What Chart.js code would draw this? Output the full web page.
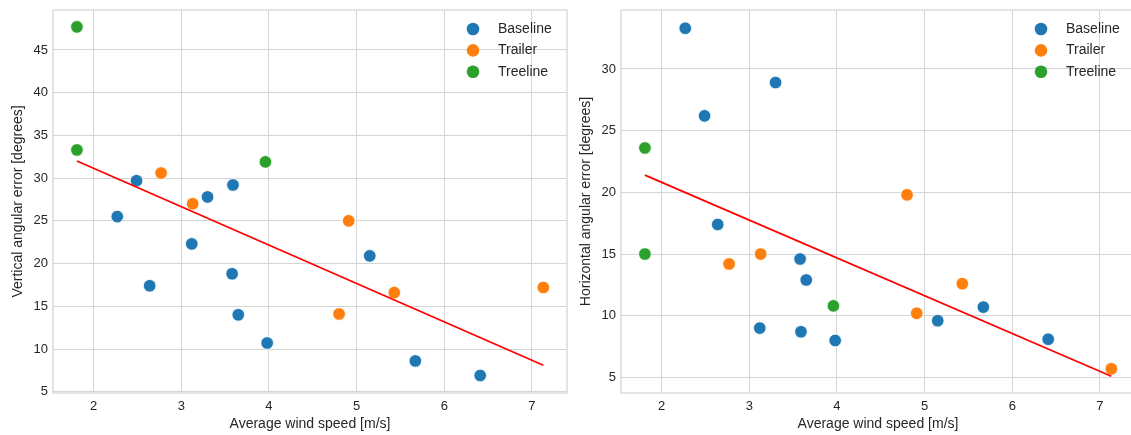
<!DOCTYPE html>
<html>
<head>
<meta charset="utf-8">
<script src="https://cdn.jsdelivr.net/npm/chart.js@4"></script>
<style>
  html, body { margin: 0; padding: 0; background: #fff; overflow: hidden; }
  #wrap { position: relative; width: 1131px; height: 435px; overflow: hidden; }
  .panel { position: absolute; top: 0; height: 435px; width: 568px; }
  #left { left: 0; }
  #right { left: 568px; }
</style>
</head>
<body>
<div id="wrap">
  <div class="panel" id="left"><canvas id="vertChart"></canvas></div>
  <div class="panel" id="right"><canvas id="horzChart"></canvas></div>
</div>
<script>
// Wind speed per run (m/s), split by site
const baselineSpeed = [2.27, 2.49, 2.64, 3.12, 3.30, 3.58, 3.59, 3.65, 3.98, 5.15, 5.67, 6.41];
const trailerSpeed = [2.77, 3.13, 4.80, 4.91, 5.43, 7.13];
const treelineSpeed = [1.81, 1.81, 3.96];

// Vertical angular error (degrees)
const baselineVertical = [25.5, 29.7, 17.4, 22.3, 27.8, 18.8, 29.2, 14.0, 10.7, 20.9, 8.6, 6.9];
const trailerVertical = [30.6, 27.0, 14.1, 25.0, 16.6, 17.2];
const treelineVertical = [47.7, 33.3, 31.9];

// Horizontal angular error (degrees)
const baselineHorizontal = [33.3, 26.2, 17.4, 9.0, 28.9, 14.6, 8.7, 12.9, 8.0, 9.6, 10.7, 8.1];
const trailerHorizontal = [14.2, 15.0, 19.8, 10.2, 12.6, 5.7];
const treelineHorizontal = [23.6, 15.0, 10.8];

// Fitted line end points
const fitSpeed = [1.81, 7.13];
const fitVertical = [32.0, 8.1];
const fitHorizontal = [21.4, 5.1];

// Tick labels
const speedTicks = [2, 3, 4, 5, 6, 7];
const verticalTicks = [5, 10, 15, 20, 25, 30, 35, 40, 45];
const horizontalTicks = [5, 10, 15, 20, 25, 30];

const siteNames = ["Baseline", "Trailer", "Treeline"];
const siteColors = ["#1f77b4", "#ff7f0e", "#2ca02c"];

const textColor = "#262626";
const gridColor = "#d5d5d5";
const family = "'Liberation Sans', Arial, sans-serif";
const tickFont = { family: family, size: 13 };
const labelFont = { family: family, size: 14 };

function toPoints(xs, ys) {
  return xs.map((x, i) => ({ x: x, y: ys[i] }));
}

// frame around the plot area + legend in the upper right corner
const frameAndLegend = {
  id: "frameAndLegend",
  beforeDatasetsDraw(chart) {
    const a = chart.chartArea;
    const ctx = chart.ctx;
    ctx.save();
    ctx.strokeStyle = gridColor;
    ctx.lineWidth = 1.25;
    ctx.strokeRect(a.left, a.top, a.right - a.left, a.bottom - a.top);
    ctx.restore();
  },
  afterDatasetsDraw(chart) {
    const a = chart.chartArea;
    const ctx = chart.ctx;
    ctx.save();
    ctx.font = labelFont.size + "px " + family;
    ctx.textBaseline = "middle";
    let row = 0;
    chart.data.datasets.forEach((ds) => {
      if (!ds.legendEntry) return;
      const y = a.top + 19 + row * 21.4;
      ctx.beginPath();
      ctx.arc(a.right - 94, y, 6.3, 0, Math.PI * 2);
      ctx.fillStyle = ds.backgroundColor;
      ctx.fill();
      ctx.fillStyle = textColor;
      ctx.fillText(ds.label, a.right - 69, y);
      row++;
    });
    ctx.restore();
  },
};

function makeChart(id, yTitle, yValues, fitY, yMin, yMax, yTicks) {
  const speeds = [baselineSpeed, trailerSpeed, treelineSpeed];
  const datasets = [
    {
      type: "line",
      label: "fit",
      data: toPoints(fitSpeed, fitY),
      borderColor: "#ff0000",
      borderWidth: 1.8,
      pointRadius: 0,
      fill: false,
      order: 0,
    },
  ];
  siteNames.forEach((name, i) => {
    datasets.push({
      type: "scatter",
      label: name,
      legendEntry: true,
      data: toPoints(speeds[i], yValues[i]),
      backgroundColor: siteColors[i],
      borderColor: "#ffffff",
      borderWidth: 0.8,
      pointRadius: 6.3,
      order: 1,
    });
  });

  return new Chart(document.getElementById(id), {
    type: "scatter",
    data: { datasets: datasets },
    options: {
      responsive: true,
      maintainAspectRatio: false,
      animation: false,
      layout: { autoPadding: false, padding: { top: 10, right: 1, bottom: 0, left: 0 } },
      plugins: { legend: { display: false }, tooltip: { enabled: false } },
      scales: {
        x: {
          type: "linear",
          min: 1.537,
          max: 7.4,
          afterBuildTicks: (s) => { s.ticks = speedTicks.map((v) => ({ value: v })); },
          afterFit: (s) => {
            s.height = 42;
            s.paddingLeft = 0;
            s.paddingRight = 0;
          },
          grid: { color: gridColor, lineWidth: 1, drawTicks: false },
          border: { display: false },
          ticks: { color: textColor, font: tickFont, padding: 6 },
          title: {
            display: true,
            text: "Average wind speed [m/s]",
            color: textColor,
            font: labelFont,
            padding: { top: 0, bottom: 2 },
          },
        },
        y: {
          type: "linear",
          min: yMin,
          max: yMax,
          afterBuildTicks: (s) => { s.ticks = yTicks.map((v) => ({ value: v })); },
          afterFit: (s) => {
            s.width = 53;
            s.paddingTop = 0;
            s.paddingBottom = 0;
          },
          grid: { color: gridColor, lineWidth: 1, drawTicks: false },
          border: { display: false },
          ticks: { color: textColor, font: tickFont, padding: 5 },
          title: {
            display: true,
            text: yTitle,
            color: textColor,
            font: labelFont,
            padding: { top: 10, bottom: 0 },
          },
        },
      },
    },
    plugins: [frameAndLegend],
  });
}

makeChart(
  "vertChart",
  "Vertical angular error [degrees]",
  [baselineVertical, trailerVertical, treelineVertical],
  fitVertical,
  4.85,
  49.68,
  verticalTicks
);

makeChart(
  "horzChart",
  "Horizontal angular error [degrees]",
  [baselineHorizontal, trailerHorizontal, treelineHorizontal],
  fitHorizontal,
  3.74,
  34.78,
  horizontalTicks
);
</script>
</body>
</html>
